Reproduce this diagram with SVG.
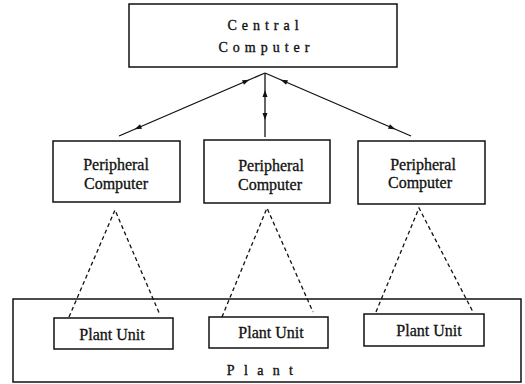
<svg xmlns="http://www.w3.org/2000/svg" width="525" height="384" viewBox="0 0 525 384">
  <defs>
    <style>
      .box { fill: #fff; stroke: #111; stroke-width: 1.5; }
      .plant { fill: none; stroke: #111; stroke-width: 1.5; }
      .lbl { font-family: "Liberation Serif", "Times New Roman", serif; font-size: 16px; fill: #111; stroke: #111; stroke-width: 0.3; text-anchor: middle; }
      .spaced { font-family: "Liberation Serif", "Times New Roman", serif; font-size: 14px; fill: #111; stroke: #111; stroke-width: 0.35; text-anchor: middle; letter-spacing: 5px; }
      .wide { letter-spacing: 9.3px; }
      .link { fill: none; stroke: #111; stroke-width: 1.3; marker-start: url(#ah); marker-end: url(#ah); }
      .dash { fill: none; stroke: #111; stroke-width: 1.3; stroke-dasharray: 4 3; }
    </style>
    <!-- arrowhead set back from the line ends, pointing outward at both ends -->
    <marker id="ah" markerUnits="userSpaceOnUse" orient="auto-start-reverse" refX="24" refY="2.5" markerWidth="30" markerHeight="8" overflow="visible">
      <path d="M0,0 L7,2.5 L0,5 Z" fill="#111"/>
    </marker>
  </defs>

  <!-- plant enclosure -->
  <g id="plant">
    <rect class="plant" x="13" y="299" width="508" height="83"/>
    <text class="spaced wide" x="264.5" y="375">Plant</text>
  </g>

  <!-- links between computers and dashed scopes down to the plant units -->
  <g id="connectors">
    <path class="link" d="M265,73 L119,136"/>
    <path class="link" d="M265,73 L265,137"/>
    <path class="link" d="M265,73 L411,136"/>
    <path class="dash" d="M69,317 L115,210 L160,315"/>
    <path class="dash" d="M222,317 L267,208 L313,312"/>
    <path class="dash" d="M376,312 L419,208 L473,312"/>
  </g>

  <g id="central">
    <rect class="box" x="129" y="4" width="268" height="63"/>
    <text class="spaced" x="265.5" y="30">Central</text>
    <text class="spaced" x="266.5" y="51.5">Computer</text>
  </g>

  <g id="peripheral-1">
    <rect class="box" x="53" y="141" width="127" height="61"/>
    <text class="lbl" x="116" y="170">Peripheral</text>
    <text class="lbl" x="116" y="189">Computer</text>
  </g>
  <g id="peripheral-2">
    <rect class="box" x="204" y="140" width="126" height="63"/>
    <text class="lbl" x="271" y="171">Peripheral</text>
    <text class="lbl" x="270" y="190">Computer</text>
  </g>
  <g id="peripheral-3">
    <rect class="box" x="358" y="141" width="127" height="63"/>
    <text class="lbl" x="423" y="170">Peripheral</text>
    <text class="lbl" x="420" y="188">Computer</text>
  </g>

  <g id="unit-1">
    <rect class="box" x="54" y="318" width="119" height="31"/>
    <text class="lbl" x="112" y="340">Plant Unit</text>
  </g>
  <g id="unit-2">
    <rect class="box" x="209" y="317" width="119" height="31"/>
    <text class="lbl" x="271" y="337.5">Plant Unit</text>
  </g>
  <g id="unit-3">
    <rect class="box" x="364" y="314" width="120" height="32"/>
    <text class="lbl" x="429" y="336">Plant Unit</text>
  </g>
</svg>
